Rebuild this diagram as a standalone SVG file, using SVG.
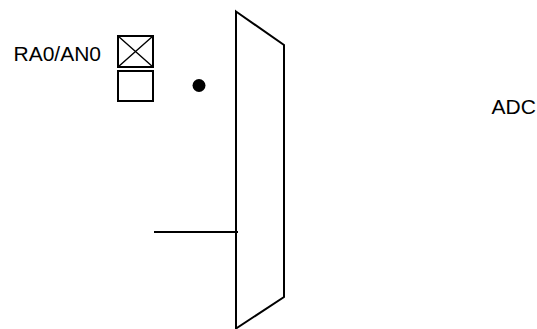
<svg xmlns="http://www.w3.org/2000/svg" width="537" height="329" viewBox="0 0 537 329">
<style>
.t{font-family:"Liberation Sans",Arial,sans-serif;font-size:21px;fill:#000}
.s{fill:none;stroke:#000;stroke-width:2}
</style>
<rect width="537" height="329" fill="#fff"/>
<g id="pin-label"><text class="t" x="13.500" y="60.700">RA0/AN0</text></g>
<g id="pad-top"><rect class="s" x="118" y="36" width="35" height="31"/><path d="M118 36L153 67M153 36L118 67" fill="none" stroke="#000" stroke-width="1.400"/></g>
<g id="pad-bottom"><rect class="s" x="118" y="71" width="35" height="30"/></g>
<g id="dot"><circle cx="199" cy="85.500" r="6.500" fill="#000"/></g>
<g id="mux"><path class="s" d="M236 11.500L284 45V297L236 328.500Z"/></g>
<g id="adc-label"><text class="t" x="491.500" y="113.500">ADC</text></g>
<g id="connectors"><path class="s" d="M154 232H238"/></g>
</svg>
